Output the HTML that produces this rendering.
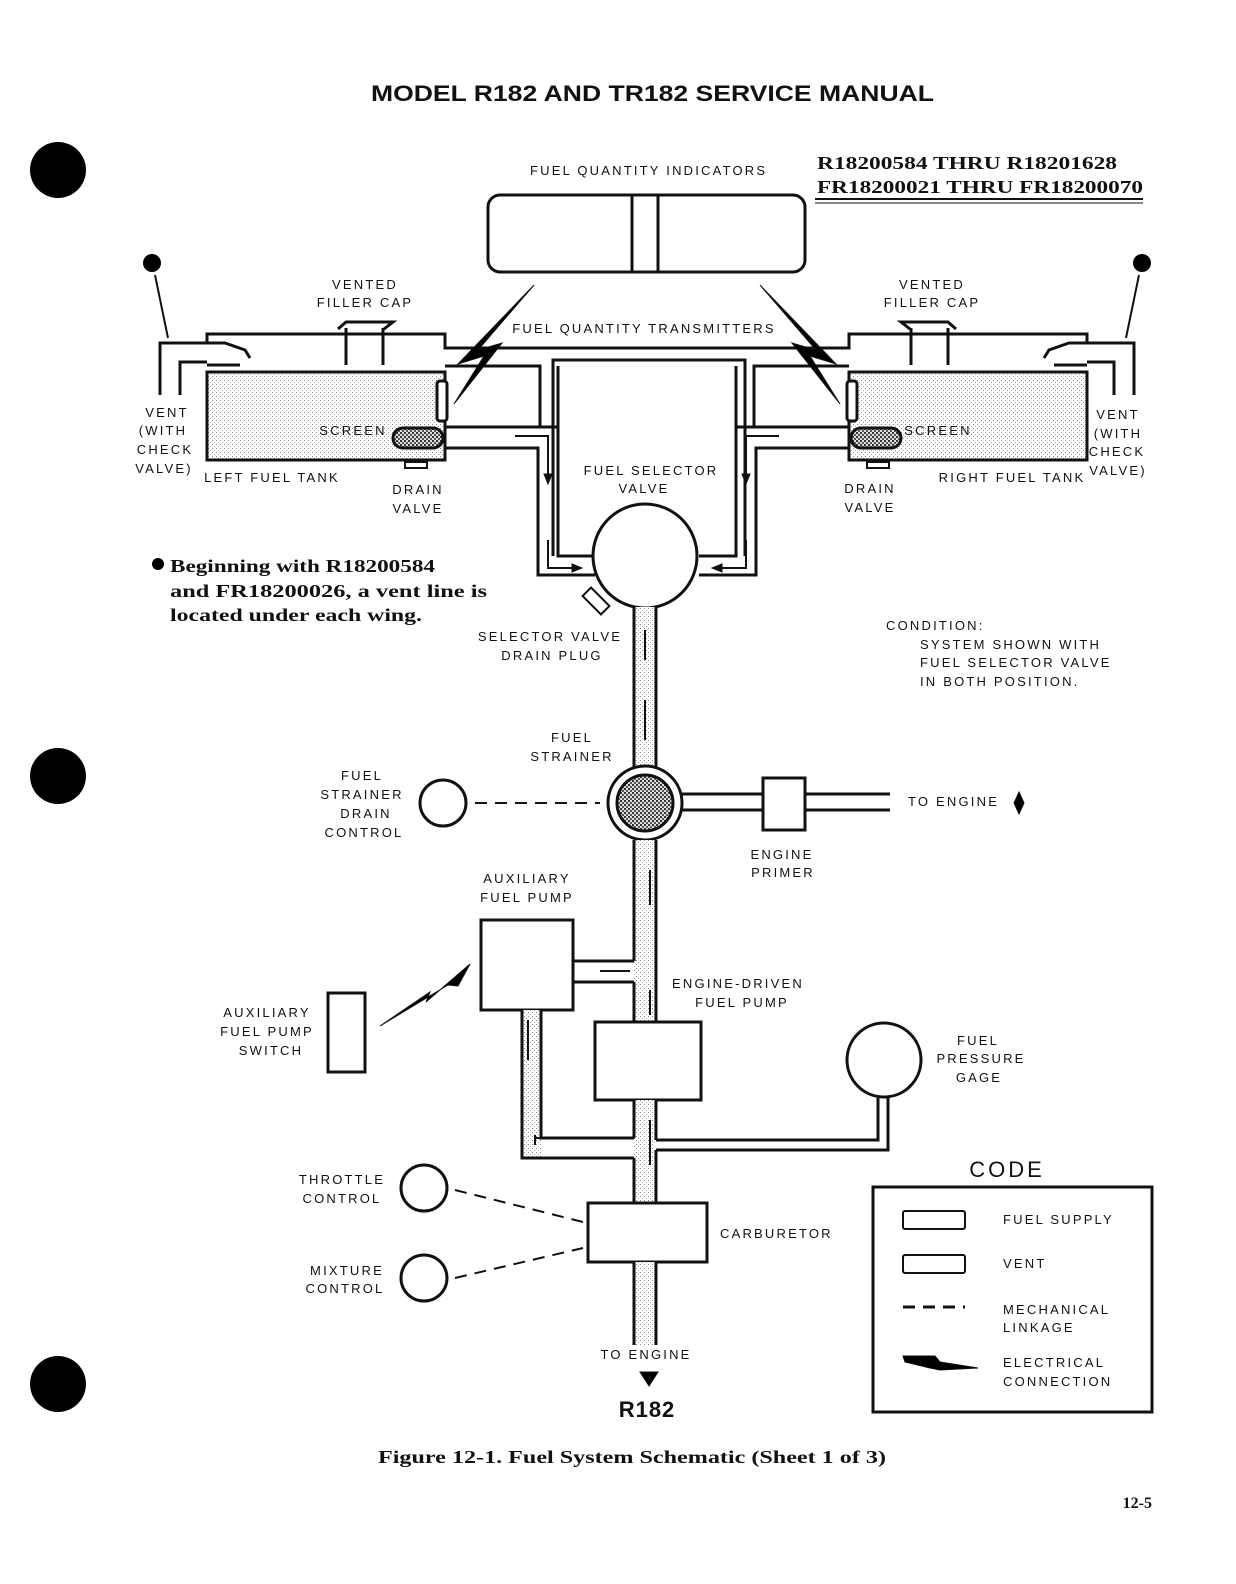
<!DOCTYPE html>
<html><head><meta charset="utf-8"><style>
html,body{margin:0;padding:0;background:#fff;}
svg{display:block;}
text{font-family:"Liberation Sans",sans-serif;fill:#111;}
.l{font-size:13px;letter-spacing:2.2px;}
.s{font-family:"Liberation Serif",serif;font-weight:bold;font-size:18px;}
</style></head><body>
<svg width="1236" height="1584" viewBox="0 0 1236 1584" xmlns="http://www.w3.org/2000/svg">
<defs>
<pattern id="st" width="4" height="4" patternUnits="userSpaceOnUse"><rect width="4" height="4" fill="#fff"/><rect x="0" y="0" width="1" height="1" fill="#888"/><rect x="2" y="2" width="1" height="1" fill="#aaa"/></pattern>
<pattern id="dk" width="4" height="4" patternUnits="userSpaceOnUse"><rect width="4" height="4" fill="#ddd"/><rect x="0" y="0" width="2" height="2" fill="#333"/><rect x="2" y="2" width="2" height="2" fill="#555"/></pattern>
</defs>
<g stroke="#111" stroke-width="3" fill="none">
<circle cx="58" cy="170" r="28" fill="#000" stroke="none"/>
<circle cx="58" cy="776" r="28" fill="#000" stroke="none"/>
<circle cx="58" cy="1384" r="28" fill="#000" stroke="none"/>
<rect x="488" y="195" width="317" height="77" rx="12"/>
<line x1="632" y1="195" x2="632" y2="272"/><line x1="658" y1="195" x2="658" y2="272"/>
<g id="side">
<circle cx="152" cy="263" r="9" fill="#000" stroke="none"/>
<line x1="155" y1="275" x2="168" y2="338" stroke-width="2"/>
<path d="M160 395 V343 H207 V334 H445 V348 H647"/>
<path d="M180 395 V362 H207"/>
<path d="M207 343 H225 L245 350 L250 358 M207 365 H240"/>
<rect x="207" y="372" width="238" height="88" fill="url(#st)"/>
<path d="M338 329 L346 322 H393 L384 329 M346 328 V365 M383 328 V365"/>
<path d="M445 366 H540 V427 H445 M540 366" />
<path d="M445 448 H538 V575 H595"/>
<path d="M558 366 V556 H595"/>
<path d="M540 427 H558"/>
<rect x="437" y="381" width="10" height="40" rx="3" fill="#fff"/>
<rect x="393" y="428" width="50" height="20" rx="10" fill="url(#dk)"/>
<rect x="405" y="462" width="22" height="6" fill="#fff" stroke-width="2"/>
<line x1="416" y1="460" x2="416" y2="462" stroke-width="2"/>
<path d="M515 436 H548 V478" stroke-width="2"/><path d="M544 474 L548 484 L552 474Z" fill="#111" stroke-width="1"/>
<path d="M548 540 V568 H575" stroke-width="2"/><path d="M572 564 L582 568 L572 572Z" fill="#111" stroke-width="1"/>
<path d="M534 285 L458 364 L484 356 L454 404 L502 343 L478 350 Z" fill="#000" stroke-width="1"/>
</g>
<use href="#side" transform="translate(1294,0) scale(-1,1)"/>
<path d="M553 556 V360 H745 V556"/>
<circle cx="645" cy="556" r="52" fill="#fff"/>
<rect x="590" y="588" width="12" height="26" transform="rotate(-45 596 601)" fill="#fff" stroke-width="2"/>
<rect x="634" y="607" width="22" height="160" fill="url(#st)" stroke="none"/>
<line x1="634" y1="607" x2="634" y2="767"/><line x1="656" y1="607" x2="656" y2="767"/>
<path d="M645 630 V660 M645 700 V740" stroke-width="2"/>
<circle cx="645" cy="803" r="37" fill="#fff"/>
<circle cx="645" cy="803" r="28" fill="url(#dk)"/>
<line x1="682" y1="794" x2="890" y2="794"/><line x1="682" y1="810" x2="890" y2="810"/>
<rect x="763" y="778" width="42" height="52" fill="#fff"/>
<circle cx="443" cy="803" r="23"/>
<line x1="475" y1="803" x2="600" y2="803" stroke-dasharray="12,8" stroke-width="2"/>
<path d="M1019 792 L1024 803 L1019 814 L1014 803Z" fill="#000" stroke-width="1"/>
<rect x="634" y="840" width="22" height="182" fill="url(#st)" stroke="none"/>
<line x1="634" y1="840" x2="634" y2="961"/><line x1="634" y1="982" x2="634" y2="1022"/>
<line x1="656" y1="840" x2="656" y2="1022"/>
<line x1="573" y1="961" x2="634" y2="961"/><line x1="573" y1="982" x2="634" y2="982"/>
<path d="M650 870 V905 M650 990 V1015" stroke-width="2"/>
<path d="M600 971 H630" stroke-width="2"/>
<rect x="481" y="920" width="92" height="90" fill="#fff"/>
<rect x="595" y="1022" width="106" height="78" fill="#fff"/>
<rect x="523" y="1010" width="18" height="150" fill="url(#st)" stroke="none"/>
<path d="M522 1010 V1158 H634 M541 1010 V1138 H634"/>
<path d="M528 1020 V1060 M535 1145 V1135 M535 1138 H555 M588 1138 H620" stroke-width="2"/>
<rect x="634" y="1100" width="22" height="105" fill="url(#st)" stroke="none"/>
<line x1="634" y1="1100" x2="634" y2="1138"/><line x1="634" y1="1158" x2="634" y2="1205"/>
<line x1="656" y1="1100" x2="656" y2="1140"/><line x1="656" y1="1150" x2="656" y2="1205"/>
<path d="M650 1120 V1165" stroke-width="2"/>
<path d="M656 1140 H878 V1098 M656 1150 H888 V1098"/>
<circle cx="884" cy="1060" r="37" fill="#fff"/>
<rect x="588" y="1203" width="119" height="59" fill="#fff"/>
<rect x="634" y="1262" width="22" height="83" fill="url(#st)" stroke="none"/>
<line x1="634" y1="1262" x2="634" y2="1345"/><line x1="656" y1="1262" x2="656" y2="1345"/>
<path d="M640 1372 H658 L649 1386Z" fill="#000" stroke-width="1"/>
<circle cx="424" cy="1188" r="23"/><circle cx="424" cy="1278" r="23"/>
<line x1="455" y1="1190" x2="583" y2="1222" stroke-dasharray="12,8" stroke-width="2"/>
<line x1="455" y1="1278" x2="583" y2="1248" stroke-dasharray="12,8" stroke-width="2"/>
<rect x="328" y="993" width="37" height="79"/>
<path d="M380 1026 L430 992 L426 1002 L470 964 L458 986 L448 985 Z" fill="#000" stroke-width="1"/>
<rect x="873" y="1187" width="279" height="225"/>
<rect x="903" y="1211" width="62" height="18" rx="2" stroke-width="2"/>
<rect x="903" y="1255" width="62" height="18" rx="2" stroke-width="2"/>
<line x1="903" y1="1307" x2="965" y2="1307" stroke-dasharray="12,8" stroke-width="3"/>
<path d="M903 1356 H935 L940 1362 L978 1368 L940 1370 L930 1368 L905 1362Z" fill="#000" stroke-width="1"/>
<line x1="815" y1="199" x2="1143" y2="199" stroke-width="2"/>
<line x1="815" y1="203" x2="1143" y2="203" stroke-width="1"/>
</g>
<text x="371" y="101" textLength="563" lengthAdjust="spacingAndGlyphs" style="font-size:22px;font-weight:bold">MODEL R182 AND TR182 SERVICE MANUAL</text>
<text x="530" y="175" class="l">FUEL QUANTITY INDICATORS</text>
<text x="817" y="169" class="s" textLength="300" lengthAdjust="spacingAndGlyphs">R18200584 THRU R18201628</text>
<text x="817" y="193" class="s" textLength="326" lengthAdjust="spacingAndGlyphs">FR18200021 THRU FR18200070</text>
<g class="l" text-anchor="middle">
<text x="365" y="289">VENTED</text><text x="365" y="307">FILLER CAP</text>
<text x="932" y="289">VENTED</text><text x="932" y="307">FILLER CAP</text>
<text x="644" y="333">FUEL QUANTITY TRANSMITTERS</text>
<text x="167" y="417">VENT</text><text x="163" y="435">(WITH</text><text x="165" y="454">CHECK</text><text x="164" y="473">VALVE)</text>
<text x="1118" y="419">VENT</text><text x="1118" y="438">(WITH</text><text x="1117" y="456">CHECK</text><text x="1118" y="475">VALVE)</text>
<text x="353" y="435">SCREEN</text><text x="938" y="435">SCREEN</text>
<text x="272" y="482">LEFT FUEL TANK</text><text x="1012" y="482">RIGHT FUEL TANK</text>
<text x="418" y="494">DRAIN</text><text x="418" y="513">VALVE</text>
<text x="870" y="493">DRAIN</text><text x="870" y="512">VALVE</text>
<text x="651" y="475">FUEL SELECTOR</text><text x="644" y="493">VALVE</text>
<text x="550" y="641">SELECTOR VALVE</text><text x="552" y="660">DRAIN PLUG</text>
<text x="572" y="742">FUEL</text><text x="572" y="761">STRAINER</text>
<text x="362" y="780">FUEL</text><text x="362" y="799">STRAINER</text><text x="366" y="818">DRAIN</text><text x="364" y="837">CONTROL</text>
<text x="782" y="859">ENGINE</text><text x="783" y="877">PRIMER</text>
<text x="527" y="883">AUXILIARY</text><text x="527" y="902">FUEL PUMP</text>
<text x="738" y="988">ENGINE-DRIVEN</text><text x="742" y="1007">FUEL PUMP</text>
<text x="267" y="1017">AUXILIARY</text><text x="267" y="1036">FUEL PUMP</text><text x="271" y="1055">SWITCH</text>
<text x="978" y="1045">FUEL</text><text x="981" y="1063">PRESSURE</text><text x="979" y="1082">GAGE</text>
<text x="342" y="1184">THROTTLE</text><text x="342" y="1203">CONTROL</text>
<text x="347" y="1275">MIXTURE</text><text x="345" y="1293">CONTROL</text>
<text x="646" y="1359">TO ENGINE</text>
</g>
<g class="l">
<text x="908" y="806">TO ENGINE</text>
<text x="886" y="630">CONDITION:</text>
<text x="920" y="649">SYSTEM SHOWN WITH</text>
<text x="920" y="667">FUEL SELECTOR VALVE</text>
<text x="920" y="686">IN BOTH POSITION.</text>
<text x="720" y="1238">CARBURETOR</text>
<text x="1003" y="1224">FUEL SUPPLY</text>
<text x="1003" y="1268">VENT</text>
<text x="1003" y="1314">MECHANICAL</text><text x="1003" y="1332">LINKAGE</text>
<text x="1003" y="1367">ELECTRICAL</text><text x="1003" y="1386">CONNECTION</text>
</g>
<text x="1007" y="1177" text-anchor="middle" style="font-size:22px;letter-spacing:3px">CODE</text>
<text x="647" y="1417" text-anchor="middle" style="font-size:22px;font-weight:bold;letter-spacing:1px">R182</text>
<circle cx="158" cy="564" r="6" fill="#000"/>
<text x="170" y="572" class="s" textLength="265" lengthAdjust="spacingAndGlyphs">Beginning with R18200584</text>
<text x="170" y="597" class="s" textLength="317" lengthAdjust="spacingAndGlyphs">and FR18200026, a vent line is</text>
<text x="170" y="621" class="s" textLength="252" lengthAdjust="spacingAndGlyphs">located under each wing.</text>
<text x="378" y="1463" class="s" textLength="508" lengthAdjust="spacingAndGlyphs">Figure 12-1. Fuel System Schematic (Sheet 1 of 3)</text>
<text x="1152" y="1508" text-anchor="end" class="s" style="font-size:16px">12-5</text>
</svg>
</body></html>
